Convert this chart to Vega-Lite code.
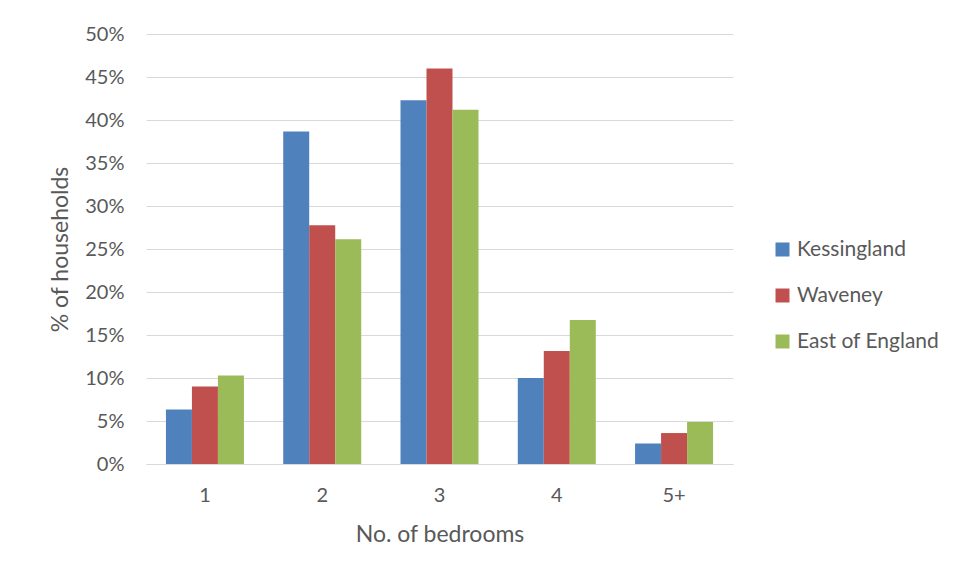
{
  "$schema": "https://vega.github.io/schema/vega-lite/v6.json",
  "width": 587,
  "height": 430,
  "autosize": {"type": "none"},
  "padding": {"left": 146, "top": 34, "right": 226, "bottom": 114},
  "background": "white",
  "data": {
    "values": [
      {"bedrooms": "1", "area": "Kessingland", "share": 0.0633},
      {"bedrooms": "1", "area": "Waveney", "share": 0.090},
      {"bedrooms": "1", "area": "East of England", "share": 0.103},
      {"bedrooms": "2", "area": "Kessingland", "share": 0.3865},
      {"bedrooms": "2", "area": "Waveney", "share": 0.2776},
      {"bedrooms": "2", "area": "East of England", "share": 0.2613},
      {"bedrooms": "3", "area": "Kessingland", "share": 0.423},
      {"bedrooms": "3", "area": "Waveney", "share": 0.4598},
      {"bedrooms": "3", "area": "East of England", "share": 0.412},
      {"bedrooms": "4", "area": "Kessingland", "share": 0.100},
      {"bedrooms": "4", "area": "Waveney", "share": 0.1314},
      {"bedrooms": "4", "area": "East of England", "share": 0.1674},
      {"bedrooms": "5+", "area": "Kessingland", "share": 0.0237},
      {"bedrooms": "5+", "area": "Waveney", "share": 0.036},
      {"bedrooms": "5+", "area": "East of England", "share": 0.0488}
    ]
  },
  "mark": {"type": "bar"},
  "encoding": {
    "x": {
      "field": "bedrooms",
      "type": "nominal",
      "sort": ["1", "2", "3", "4", "5+"],
      "scale": {"paddingInner": 0.335, "paddingOuter": 0.17},
      "axis": {
        "title": "No. of bedrooms",
        "labelAngle": 0,
        "labelFont": "Lato",
        "labelFontSize": 20,
        "labelColor": "#595959",
        "labelPadding": 21,
        "ticks": false,
        "domainColor": "#d9d9d9",
        "titleFont": "Lato",
        "titleFontSize": 23,
        "titleFontWeight": "normal",
        "titleColor": "#595959",
        "titlePadding": 18
      }
    },
    "xOffset": {
      "field": "area",
      "type": "nominal",
      "sort": ["Kessingland", "Waveney", "East of England"],
      "scale": {"paddingInner": 0, "paddingOuter": 0}
    },
    "y": {
      "field": "share",
      "type": "quantitative",
      "scale": {"domain": [0, 0.5], "nice": false},
      "axis": {
        "title": "% of households",
        "format": ".0%",
        "values": [0, 0.05, 0.1, 0.15, 0.2, 0.25, 0.3, 0.35, 0.4, 0.45, 0.5],
        "labelFont": "Lato",
        "labelFontSize": 20,
        "labelColor": "#595959",
        "labelPadding": 22,
        "ticks": false,
        "domain": false,
        "gridColor": "#d9d9d9",
        "gridWidth": 1,
        "titleFont": "Lato",
        "titleFontSize": 23,
        "titleFontWeight": "normal",
        "titleColor": "#595959",
        "titlePadding": 12
      }
    },
    "color": {
      "field": "area",
      "type": "nominal",
      "sort": ["Kessingland", "Waveney", "East of England"],
      "scale": {
        "domain": ["Kessingland", "Waveney", "East of England"],
        "range": ["#4f81bd", "#c0504d", "#9bbb59"]
      },
      "legend": {
        "title": null,
        "orient": "none",
        "legendX": 626,
        "legendY": 205,
        "symbolType": "square",
        "symbolSize": 196,
        "symbolStrokeWidth": 0,
        "labelFont": "Lato",
        "labelFontSize": 21,
        "labelColor": "#595959",
        "labelOffset": 4,
        "rowPadding": 24
      }
    }
  },
  "config": {
    "view": {"stroke": null}
  }
}
